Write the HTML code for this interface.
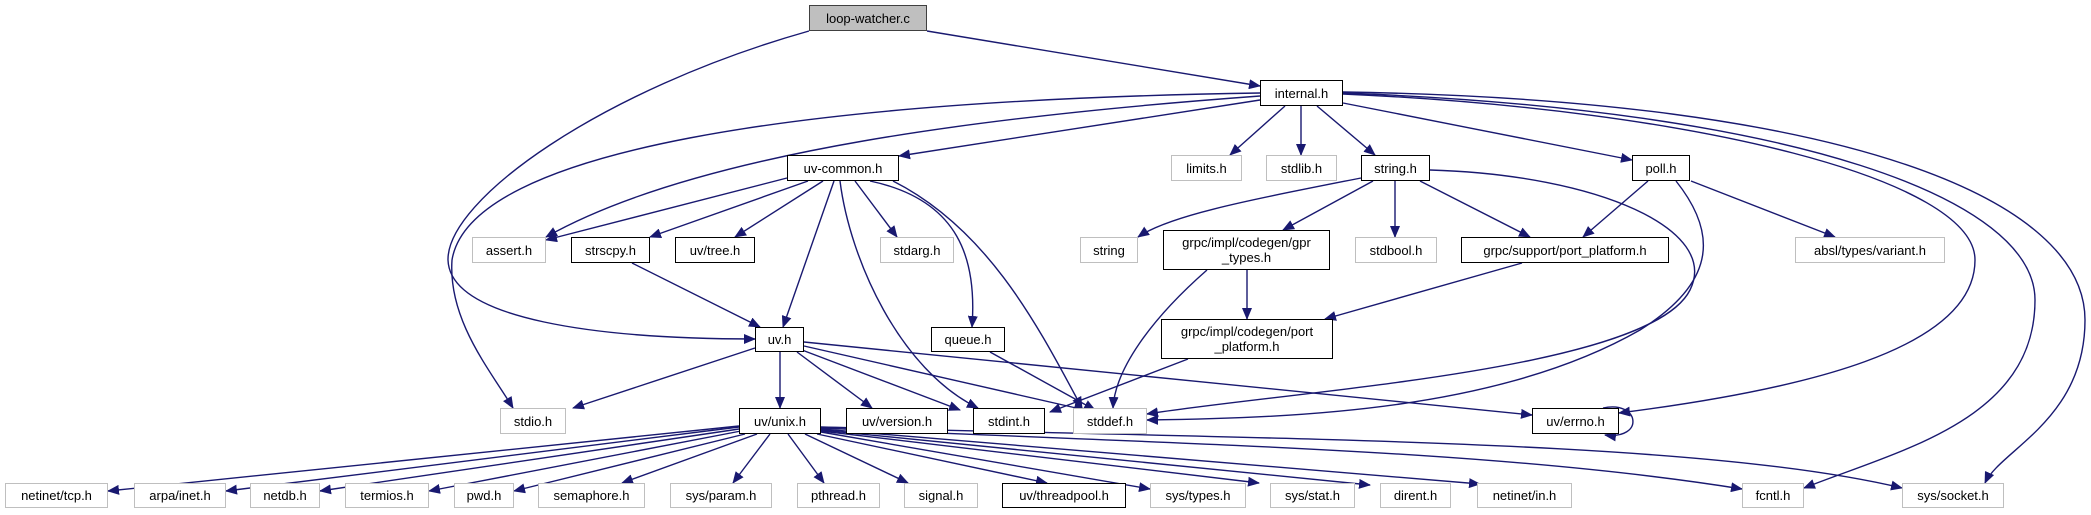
<!DOCTYPE html>
<html><head><meta charset="utf-8"><style>
body{margin:0;width:2091px;height:515px;background:#fff;position:relative;overflow:hidden;font-family:"Liberation Sans","DejaVu Sans",sans-serif;}
.n{position:absolute;box-sizing:border-box;border:1.5px solid #000;background:#fff;font-size:13px;display:flex;align-items:center;justify-content:center;text-align:center;line-height:15px;color:#000;white-space:nowrap}
.g{border-color:#bfbfbf}
svg{position:absolute;left:0;top:0}
</style></head><body>
<svg width="2091" height="515" viewBox="0 0 2091 515">
<defs><marker id="a" markerWidth="12" markerHeight="10" refX="11" refY="5" orient="auto" markerUnits="userSpaceOnUse"><path d="M0,0 L12,5 L0,10 z" fill="#191970"/></marker></defs>
<g fill="none" stroke="#191970" stroke-width="1.4" marker-end="url(#a)">
<path d="M927,31 L1260,86"/>
<path d="M809,31 C600,90 447,200 448,260 C450,320 600,339 755,339"/>
<path d="M1260,100 L899,156"/>
<path d="M1260,96 C1000,115 700,150 546,237"/>
<path d="M1260,93 C800,100 470,150 452,260 C448,320 490,370 513,408"/>
<path d="M1285,106 L1230,155"/>
<path d="M1301,106 L1301,155"/>
<path d="M1317,106 L1375,155"/>
<path d="M1343,103 L1632,160"/>
<path d="M1343,94 C1700,110 1975,180 1975,260 C1975,350 1800,390 1619,413"/>
<path d="M1343,93 C1800,110 2035,200 2035,300 C2035,420 1900,450 1804,488"/>
<path d="M1343,92 C1850,100 2085,200 2085,320 C2085,420 2000,450 1985,483"/>
<path d="M787,178 L546,240"/>
<path d="M808,181 L650,237"/>
<path d="M823,181 L735,237"/>
<path d="M834,181 L783,327"/>
<path d="M840,181 C850,260 900,370 978,408"/>
<path d="M855,181 L897,237"/>
<path d="M870,181 C960,200 977,260 972,327"/>
<path d="M893,181 C990,230 1040,330 1082,408"/>
<path d="M632,263 L760,327"/>
<path d="M755,348 L573,408"/>
<path d="M780,352 L780,408"/>
<path d="M797,352 L872,408"/>
<path d="M802,350 L960,410"/>
<path d="M804,346 L1085,410"/>
<path d="M804,342 L1532,415"/>
<path d="M990,352 L1095,410"/>
<path d="M1361,178 C1250,200 1170,215 1138,237"/>
<path d="M1373,181 L1283,230"/>
<path d="M1395,181 L1395,237"/>
<path d="M1420,181 L1530,237"/>
<path d="M1430,170 C1600,175 1720,230 1690,290 C1650,370 1300,390 1147,414"/>
<path d="M1648,181 L1583,237"/>
<path d="M1691,181 L1835,237"/>
<path d="M1676,181 C1715,230 1720,280 1640,330 C1500,410 1300,418 1147,420"/>
<path d="M1247,270 L1247,319"/>
<path d="M1207,270 C1150,320 1115,370 1113,408"/>
<path d="M1522,263 L1325,319"/>
<path d="M1188,359 L1050,412"/>
<path d="M1603,408 C1640,400 1645,440 1605,435"/>
<path d="M739,426 L108,491"/>
<path d="M739,427 L226,491"/>
<path d="M739,429 L320,491"/>
<path d="M741,431 L429,491"/>
<path d="M745,434 L514,491"/>
<path d="M757,434 L622,483"/>
<path d="M770,434 L733,483"/>
<path d="M788,434 L824,483"/>
<path d="M805,434 L908,483"/>
<path d="M817,434 L1047,483"/>
<path d="M821,432 L1150,489"/>
<path d="M821,431 L1259,483"/>
<path d="M821,430 L1370,485"/>
<path d="M821,429 L1480,484"/>
<path d="M821,428 C1200,445 1500,450 1742,489"/>
<path d="M821,427 C1300,440 1700,440 1902,488"/>
</g>
</svg>
<div class="n" style="left:809px;top:5px;width:118px;height:26px;background:#bfbfbf;border-color:#404040">loop-watcher.c</div>
<div class="n" style="left:1260px;top:80px;width:83px;height:26px">internal.h</div>
<div class="n" style="left:787px;top:155px;width:112px;height:26px">uv-common.h</div>
<div class="n g" style="left:1171px;top:155px;width:71px;height:26px">limits.h</div>
<div class="n g" style="left:1266px;top:155px;width:71px;height:26px">stdlib.h</div>
<div class="n" style="left:1361px;top:155px;width:69px;height:26px">string.h</div>
<div class="n" style="left:1632px;top:155px;width:58px;height:26px">poll.h</div>
<div class="n g" style="left:472px;top:237px;width:74px;height:26px">assert.h</div>
<div class="n" style="left:571px;top:237px;width:79px;height:26px">strscpy.h</div>
<div class="n" style="left:675px;top:237px;width:80px;height:26px">uv/tree.h</div>
<div class="n g" style="left:880px;top:237px;width:74px;height:26px">stdarg.h</div>
<div class="n g" style="left:1080px;top:237px;width:58px;height:26px">string</div>
<div class="n" style="left:1163px;top:230px;width:167px;height:40px">grpc/impl/codegen/gpr<br>_types.h</div>
<div class="n g" style="left:1355px;top:237px;width:82px;height:26px">stdbool.h</div>
<div class="n" style="left:1461px;top:237px;width:208px;height:26px">grpc/support/port_platform.h</div>
<div class="n g" style="left:1795px;top:237px;width:150px;height:26px">absl/types/variant.h</div>
<div class="n" style="left:755px;top:327px;width:49px;height:25px">uv.h</div>
<div class="n" style="left:931px;top:327px;width:74px;height:25px">queue.h</div>
<div class="n" style="left:1161px;top:319px;width:172px;height:40px">grpc/impl/codegen/port<br>_platform.h</div>
<div class="n g" style="left:500px;top:408px;width:66px;height:26px">stdio.h</div>
<div class="n" style="left:739px;top:408px;width:82px;height:26px">uv/unix.h</div>
<div class="n" style="left:846px;top:408px;width:102px;height:26px">uv/version.h</div>
<div class="n" style="left:973px;top:408px;width:72px;height:26px">stdint.h</div>
<div class="n g" style="left:1073px;top:408px;width:74px;height:26px">stddef.h</div>
<div class="n" style="left:1532px;top:408px;width:87px;height:26px">uv/errno.h</div>
<div class="n g" style="left:5px;top:483px;width:103px;height:25px">netinet/tcp.h</div>
<div class="n g" style="left:134px;top:483px;width:92px;height:25px">arpa/inet.h</div>
<div class="n g" style="left:250px;top:483px;width:70px;height:25px">netdb.h</div>
<div class="n g" style="left:345px;top:483px;width:84px;height:25px">termios.h</div>
<div class="n g" style="left:454px;top:483px;width:60px;height:25px">pwd.h</div>
<div class="n g" style="left:538px;top:483px;width:107px;height:25px">semaphore.h</div>
<div class="n g" style="left:670px;top:483px;width:102px;height:25px">sys/param.h</div>
<div class="n g" style="left:797px;top:483px;width:83px;height:25px">pthread.h</div>
<div class="n g" style="left:904px;top:483px;width:74px;height:25px">signal.h</div>
<div class="n" style="left:1002px;top:483px;width:124px;height:25px">uv/threadpool.h</div>
<div class="n g" style="left:1150px;top:483px;width:96px;height:25px">sys/types.h</div>
<div class="n g" style="left:1270px;top:483px;width:85px;height:25px">sys/stat.h</div>
<div class="n g" style="left:1380px;top:483px;width:71px;height:25px">dirent.h</div>
<div class="n g" style="left:1477px;top:483px;width:95px;height:25px">netinet/in.h</div>
<div class="n g" style="left:1742px;top:483px;width:62px;height:25px">fcntl.h</div>
<div class="n g" style="left:1902px;top:483px;width:102px;height:25px">sys/socket.h</div>
</body></html>
